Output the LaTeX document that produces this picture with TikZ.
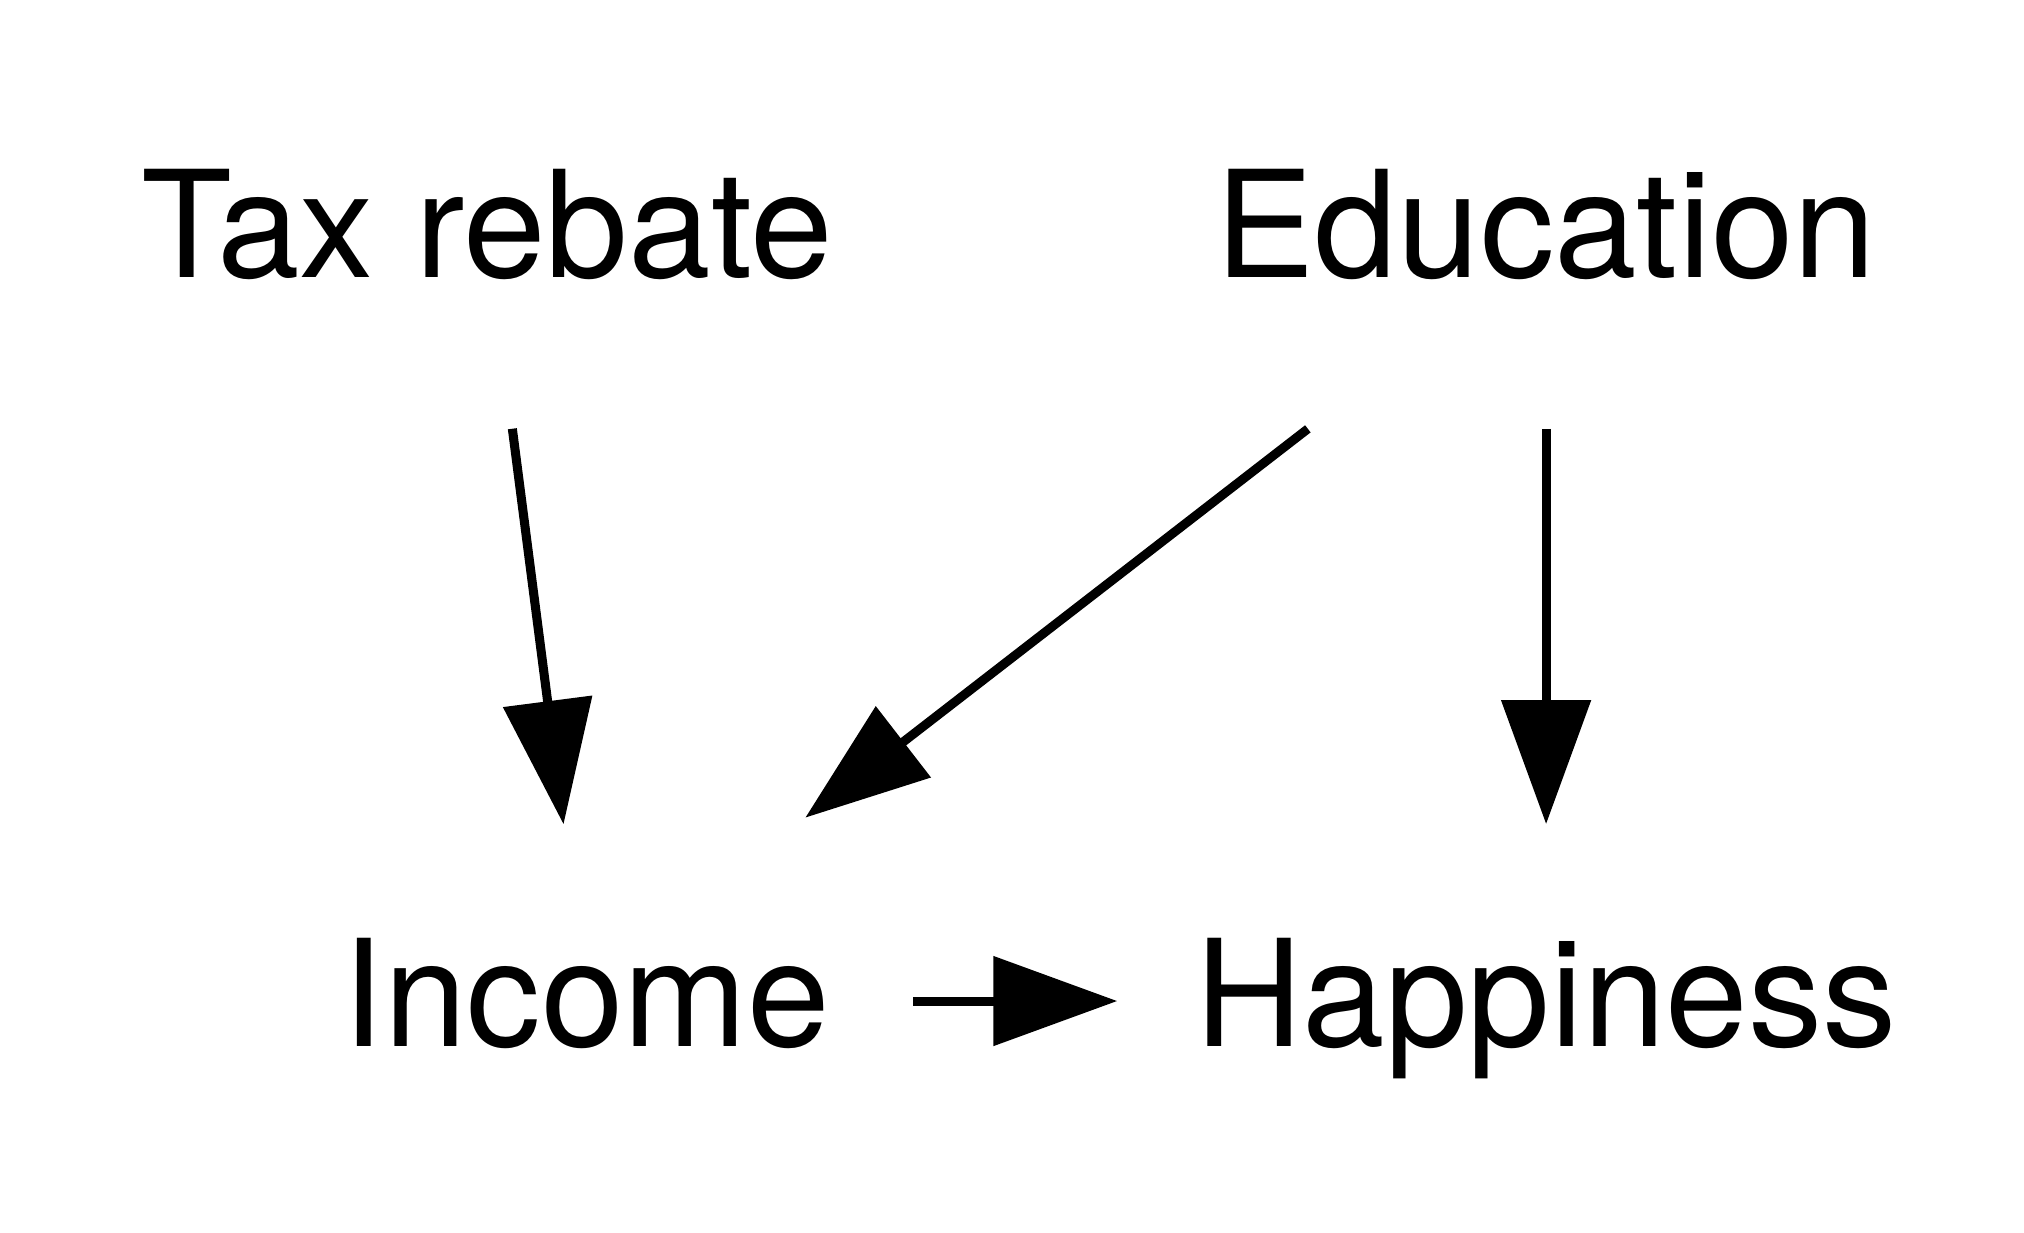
\documentclass[tikz,border=0pt]{standalone}
\usepackage{fontspec}
\setmainfont{TeX Gyre Heros}
\usetikzlibrary{arrows.meta}
\begin{document}
\begin{tikzpicture}[x=0.5pt,y=-0.5pt,
  var/.style={inner sep=0pt, text height=41.5pt, text depth=6.5pt,
    font=\fontsize{57.5}{60}\selectfont},
  edge/.style={line width=3.5pt, -{Triangle[length=48pt,width=34pt]}}]
\useasboundingbox (0,0) rectangle (1567,954);
\node[var] (tax) at (377,180) {Tax rebate};
\node[var] (edu) at (1197,180) {Education};
\node[var] (inc) at (454,775) {Income};
\node[var] (hap) at (1197,775) {Happiness};
\draw[edge, shorten <=76.6pt, shorten >=69pt] (tax.center) -- (inc.center);
\draw[edge, shorten <=124.2pt, shorten >=116pt] ([xshift=6pt]edu.center) -- ([xshift=-7pt]inc.center);
\draw[edge, shorten <=76pt, shorten >=68.5pt] (edu.center) -- (hap.center);
\draw[edge, shorten <=126.5pt, shorten >=166pt] (inc.center) -- (hap.center);
\end{tikzpicture}
\end{document}
